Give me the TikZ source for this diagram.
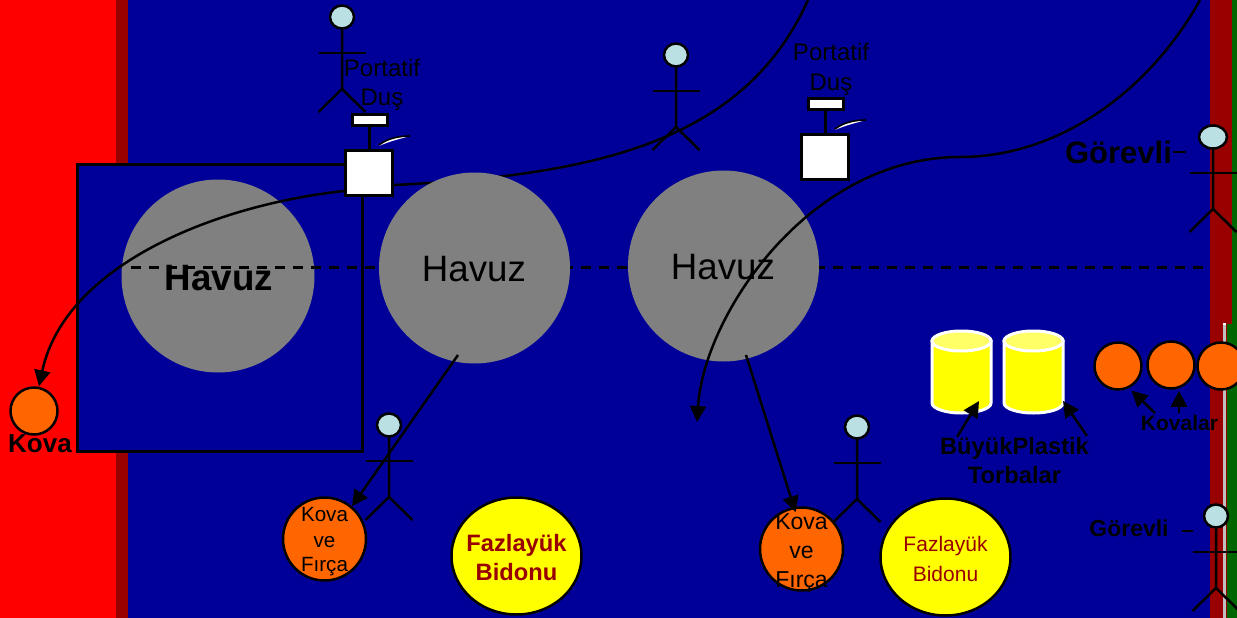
\documentclass[tikz,border=0pt]{standalone}
\usepackage{fontspec}
\setmainfont{Liberation Sans}
\usepackage{tikz}
\usetikzlibrary{arrows.meta,shapes.geometric}

\definecolor{poolblue}{HTML}{000099}
\definecolor{wallred}{HTML}{990000}
\definecolor{brightred}{HTML}{FF0000}
\definecolor{grassgreen}{HTML}{006600}
\definecolor{bucket}{HTML}{FF6600}
\definecolor{headblue}{HTML}{BBE0E3}
\definecolor{bagyellow}{HTML}{FFFF00}
\definecolor{baglid}{HTML}{FFFF66}
\definecolor{poolgray}{HTML}{808080}
\definecolor{striplight}{HTML}{C0C0C0}

\tikzset{
  pool/.style = {circle, fill=poolgray, minimum size=#1, inner sep=0pt},
  bucketnode/.style = {circle, draw=black, line width=2.5pt, fill=bucket, minimum size=#1, inner sep=0pt},
  bin/.style = {ellipse, draw=black, line width=2.5pt, fill=bagyellow, minimum width=130pt, minimum height=117pt, inner sep=0pt},
  shower/.style = {draw=black, line width=3pt, fill=white, inner sep=0pt},
  arrowline/.style = {draw=black, line width=2.5pt, -{Triangle[length=16pt,width=16pt]}},
  centerline/.style = {dash pattern=on 10pt off 8pt, line width=2.5pt},
  body/.style = {draw=black, line width=2.5pt},
  lbl/.style = {inner sep=0pt, anchor=base, text=black, font=\fontsize{#1}{#1}\selectfont},
  blbl/.style = {inner sep=0pt, anchor=base, text=black, font=\fontsize{#1}{#1}\selectfont\bfseries},
  binlbl/.style = {inner sep=0pt, anchor=base, text=wallred, font=\fontsize{#1}{#1}\selectfont},
  binblbl/.style = {inner sep=0pt, anchor=base, text=wallred, font=\fontsize{#1}{#1}\selectfont\bfseries}
}

\begin{document}
\begin{tikzpicture}[x=1pt,y=-1pt]
  \useasboundingbox (0,0) rectangle (1237,618);
  \clip (0,0) rectangle (1237,618);

  % ground and walls
  \fill [poolblue] (0,0) rectangle (1237,618);
  \fill [brightred] (0,0) rectangle (116,618);
  \fill [wallred] (116,0) rectangle (128,618);
  \fill [wallred] (1210,0) rectangle (1232,324);
  \fill [wallred] (1210,324) rectangle (1227,618);
  \fill [grassgreen] (1232,0) rectangle (1237,324);
  \fill [grassgreen] (1227,324) rectangle (1237,618);
  \fill [striplight] (1223,324) rectangle (1226,618);
  \fill [white] (1223,323) rectangle (1226,325);

  \draw [draw=black, fill=poolblue, line width=3pt] (77,164) rectangle (362,451);
  \draw [centerline] (131,267.5) -- (1210,267.5);

  % showers
  \foreach \id/\dx/\dy/\lx/\ly/\ty in {1/0/0/382/77/105, 2/456/-16/831/61/90}{
    \node [shower, minimum width=47pt, minimum height=45pt] (square\id) at (369+\dx,173+\dy) {};
    \node [shower, minimum width=35pt, minimum height=11pt] (head\id) at (369.7+\dx,120+\dy) {};
    \draw [line width=3pt] (head\id.south) -- (square\id.north -| head\id.south);
    \fill [white] (379+\dx,146+\dy) .. controls (388+\dx,138+\dy) and (400+\dx,136+\dy) .. (410+\dx,136+\dy)
      .. controls (400+\dx,139+\dy) and (390+\dx,141+\dy) .. cycle;
    \draw [line width=1.6pt] (379+\dx,145+\dy) .. controls (388+\dx,138+\dy) and (400+\dx,136+\dy) .. (410+\dx,136+\dy);
    \node [lbl=24] at (\lx,\ly) {Portatif};
    \node [lbl=24] at (\lx,\ty) {Duş};
  }

  % pools
  \coordinate (curveA) at (808,0);
  \draw [line width=2.5pt] ([yshift=-12pt]square1.east) .. controls (600,175) and (745,140) .. (curveA);
  \node [pool=193pt] (pool1) at (218,276) {};
  \draw [centerline] (131,267.5) -- (314,267.5);
  \node [pool=191pt] (pool2) at (474.5,268) {};
  \node [pool=191pt] (pool3) at (723.5,266) {};
  \node [blbl=36.7] at (219,290) {Havuz};
  \node [lbl=36.7] at (474,281) {Havuz};
  \node [lbl=36.7] at (723,279) {Havuz};

  % stick figures
  \foreach \hx/\hy/\rx in {342/17/12, 676/55/12, 1213/137/14, 1216/516/12, 389/425/12, 857/427/12}{
    \draw [body] (\hx,\hy) -- ++(0,72) -- ++(-23.5,23);
    \draw [body] (\hx,\hy+72) -- ++(23.5,23);
    \draw [body] (\hx-23.5,\hy+36) -- ++(47,0);
    \draw [draw=black, fill=headblue, line width=2.5pt] (\hx,\hy) ellipse ({\rx} and 11.5);
  }

  % buckets
  \node [bucketnode=47pt] (kova) at (34,411) {};
  \node [bucketnode=83pt] (brush1) at (324.5,539) {};
  \node [bucketnode=83pt] (brush2) at (801.5,549) {};
  \node [bucketnode=47pt] (kovalar1) at (1118,366) {};
  \node [bucketnode=47pt] (kovalar2) at (1171,365) {};
  \node [bucketnode=47pt] (kovalar3) at (1221,366) {};
  \node [lbl=20.6] at (324.5,521) {Kova};
  \node [lbl=20.6] at (324.5,547) {ve};
  \node [lbl=20.6] at (324.5,571) {Fırça};
  \node [lbl=23] at (801.5,529) {Kova};
  \node [lbl=23] at (801.5,558) {ve};
  \node [lbl=23] at (801.5,587) {Fırça};

  % bins
  \node [bin] (bin1) at (516.5,556) {};
  \node [bin] (bin2) at (945.5,557) {};
  \node [binblbl=23.7] at (516.5,551) {Fazlayük};
  \node [binblbl=23.7] at (516.5,580) {Bidonu};
  \node [binlbl=21] at (945.5,551) {Fazlayük};
  \node [binlbl=21] at (945.5,581) {Bidonu};

  % bags
  \foreach \id/\dx in {1/0, 2/72}{
    \draw [draw=white, fill=bagyellow, line width=3pt] (932+\dx,341) -- (932+\dx,403)
      arc [start angle=180, end angle=360, x radius=29.5, y radius=-10] -- (991+\dx,341) -- cycle;
    \draw [draw=white, fill=baglid, line width=3pt] (961.5+\dx,341) ellipse (29.5 and 10);
  }

  % curves
  \coordinate (curveB) at (1200,0);
  \coordinate (curveC) at (960,157);
  \coordinate (pourend) at (697,422);
  \draw [arrowline] ([yshift=-18pt]square1.west) .. controls (215,205) and (65,265) .. ([xshift=5pt]kova.north);
  \draw [arrowline] (curveB) .. controls (1150,90) and (1060,157) .. (curveC)
    .. controls (810,157) and (704,314) .. (pourend);
  \coordinate (poolout2) at (458,355);
  \coordinate (poolout3) at (746,355);
  \draw [arrowline] (poolout2) -- (brush1.50);
  \draw [arrowline] (poolout3) -- ([xshift=-6pt,yshift=-6pt]brush2.north);

  % labels
  \node [blbl=31] (gorevli1) at (1118.5,163) {Görevli};
  \node [blbl=23] (gorevli2) at (1129,536) {Görevli};
  \node [blbl=26] (kovalbl) at (40,452) {Kova};
  \node [blbl=21] (kovalarlbl) at (1179.5,430) {Kovalar};
  \node [blbl=23.7] (baglbl1) at (1014.5,454) {BüyükPlastik};
  \node [blbl=23.7] (baglbl2) at (1014.5,483) {Torbalar};
  \coordinate (gorevlitick1) at (1186,152);
  \coordinate (gorevlitick2) at (1193,531);
  \draw [line width=2pt] (1173,152) -- (gorevlitick1);
  \draw [line width=2pt] (1182,531) -- (gorevlitick2);
  \coordinate (bagtail1) at (957,437);
  \coordinate (bagtip1) at (979,401);
  \coordinate (bagtail2) at (1087,436);
  \coordinate (bagtip2) at (1063,401);
  \coordinate (kovatail1) at (1155,413);
  \coordinate (kovatail2) at (1179,413);
  \draw [arrowline] (bagtail1) -- (bagtip1);
  \draw [arrowline] (bagtail2) -- (bagtip2);
  \draw [arrowline] (kovatail1) -- ([xshift=-4pt,yshift=-7pt]kovalar1.south east);
  \draw [arrowline] (kovatail2) -- ([xshift=8pt,yshift=-1pt]kovalar2.south);
\end{tikzpicture}
\end{document}
